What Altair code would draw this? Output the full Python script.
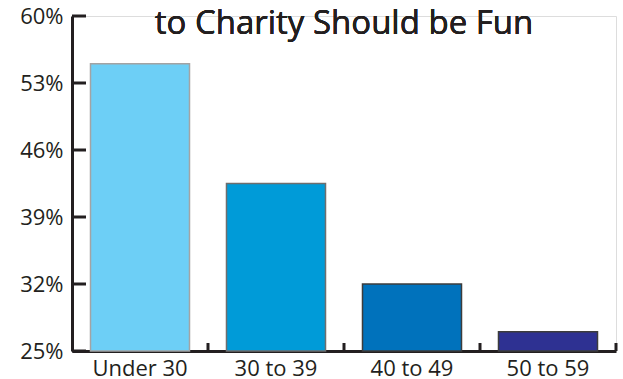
import altair as alt
import pandas as pd

# Share who agree, by age group
groups = ["Under 30", "30 to 39", "40 to 49", "50 to 59"]
shares = [55.0, 42.5, 32.0, 27.0]
fills = ["#6DCFF6", "#009BD8", "#0072BC", "#2E3192"]
edges = ["#A3A3A3", "#6E6E6E", "#3C3C3C", "#3C3C3C"]
y_ticks = [25, 32, 39, 46, 53, 60]
title_text = "to Charity Should be Fun"

ink = "#231F20"
font = "Open Sans"

bars_df = pd.DataFrame({"group": groups, "share": shares, "fill": fills, "edge": edges})
ticks_df = pd.DataFrame({"share": y_ticks})
bounds_df = pd.DataFrame({"group": groups})

x_scale = alt.Scale(domain=groups, paddingInner=0, paddingOuter=0)
y_scale = alt.Scale(domain=[25, 60], nice=False, zero=False)

x_axis = alt.Axis(title=None, ticks=False, tickSize=0, labelAngle=0, labelFontSize=22,
                  labelFont=font, labelColor=ink, labelPadding=7,
                  domainColor=ink, domainWidth=3, grid=False)
y_axis = alt.Axis(title=None, values=y_ticks, ticks=False, tickSize=0, grid=False,
                  labelExpr="datum.value + '%'", labelFontSize=22,
                  labelFont=font, labelColor=ink, labelPadding=9,
                  domainColor=ink, domainWidth=3)

bars = alt.Chart(bars_df).mark_bar(
    width=alt.RelativeBandSize(0.728), strokeWidth=1.5
).encode(
    x=alt.X("group:N", sort=groups, scale=x_scale, axis=x_axis),
    y=alt.Y("share:Q", scale=y_scale, axis=y_axis),
    y2=alt.datum(25),
    fill=alt.Fill("fill:N", scale=None),
    stroke=alt.Stroke("edge:N", scale=None),
)

# inward ticks on the category axis, at band boundaries
x_tick_marks = alt.Chart(bounds_df).mark_rule(color=ink, strokeWidth=3).encode(
    x=alt.X("group:N", sort=groups, scale=x_scale, bandPosition=1, axis=x_axis),
    y=alt.value(327),
    y2=alt.value(335),
)

# inward ticks on the value axis
y_tick_marks = alt.Chart(ticks_df).mark_rule(color=ink, strokeWidth=3).encode(
    y=alt.Y("share:Q", scale=y_scale, axis=y_axis),
    x=alt.value(0),
    x2=alt.value(14),
)

heading = alt.Chart(bounds_df).mark_text(
    fontSize=33, font=font, color=ink, align="center", baseline="alphabetic"
).encode(
    x=alt.value(272),
    y=alt.value(18),
    text=alt.value(title_text),
)

chart = alt.layer(bars, x_tick_marks, y_tick_marks, heading).properties(
    width=544,
    height=335,
    autosize=alt.AutoSizeParams(type="none"),
    padding={"left": 72, "top": 16, "right": 7, "bottom": 28},
).configure_view(strokeWidth=0).configure(background="white")

chart.save("out.html", embed_options={"renderer": "svg", "actions": False})
